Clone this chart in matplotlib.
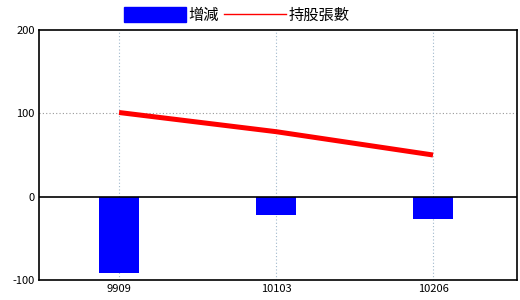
import matplotlib.pyplot as plt
from matplotlib.lines import Line2D
from matplotlib.patches import Patch
import numpy as np

plt.rcParams['font.family'] = ['Noto Sans CJK TC', 'DejaVu Sans']
plt.rcParams.update({'font.size': 8, 'axes.unicode_minus': False})

categories = ['9909', '10103', '10206']
change = [-91, -22, -27]        # 增減
shares = [101, 78, 50]          # 持股張數

x = np.arange(len(categories))

fig = plt.figure(figsize=(5.2, 3.0), dpi=100)
ax = fig.add_axes([39/520, 20/300, 478/520, 250/300])

ax.bar(x, change, width=0.255, color='#0000ff', zorder=2)
ax.plot(x, shares, color='#ff0000', lw=3.6, zorder=3, solid_capstyle='butt')

ax.set_xlim(-0.51, 2.535)
ax.set_ylim(-100, 200)
ax.set_yticks([-100, 0, 100, 200])
ax.set_xticks(x)
ax.set_xticklabels(categories)

ax.axhline(0, color='black', lw=1.2, zorder=2)
ax.axhline(100, color='#999999', lw=0.8, ls=(0, (1, 2)), zorder=1)
for xi in x:
    ax.axvline(xi, color='#a0b8cc', lw=0.8, ls=(0, (1, 2)), zorder=1)

for s in ax.spines.values():
    s.set_linewidth(1.2)
ax.tick_params(length=0, pad=3)

handles = [Patch(color='#0000ff', label='增減'),
           Line2D([], [], color='#ff0000', lw=1.0, label='持股張數')]
ax.legend(handles=handles, loc='lower left', bbox_to_anchor=(74/478, 0.982), ncol=2,
          frameon=False, handlelength=4.1, handleheight=1.1, handletextpad=0.15,
          columnspacing=0.3, borderpad=0.2, fontsize=11)

plt.savefig('out.png', dpi=100)
